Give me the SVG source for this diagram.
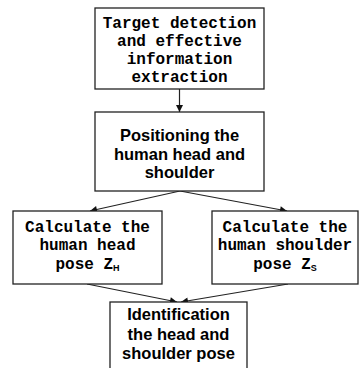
<svg xmlns="http://www.w3.org/2000/svg" width="361" height="368" viewBox="0 0 361 368">
<style>
.box{fill:#fff;stroke:#222;stroke-width:1.3}
.mono{font-family:"Liberation Mono","Courier New",monospace;font-weight:bold;font-size:16px;fill:#000;text-anchor:middle}
.sans{font-family:"Liberation Sans",Arial,sans-serif;font-weight:bold;font-size:16.5px;fill:#000;text-anchor:middle}
.sub{font-family:"Liberation Sans",Arial,sans-serif;font-weight:bold;font-size:9px}
.conn{stroke:#222;stroke-width:1.2;fill:none}
</style>
<defs>
<marker id="ah" viewBox="0 0 10 10" refX="10" refY="5" markerWidth="8" markerHeight="7" markerUnits="userSpaceOnUse" orient="auto">
<path d="M0,0 L10,5 L0,10 z" fill="#111"/>
</marker>
</defs>
<rect width="361" height="368" fill="#fff"/>
<g id="connectors">
<line class="conn" x1="179.5" y1="89" x2="179.5" y2="112" marker-end="url(#ah)"/>
<line class="conn" x1="180" y1="191" x2="90" y2="211" marker-end="url(#ah)"/>
<line class="conn" x1="180" y1="191" x2="287" y2="211" marker-end="url(#ah)"/>
<line class="conn" x1="87" y1="284" x2="177" y2="302" marker-end="url(#ah)"/>
<line class="conn" x1="288" y1="284" x2="181" y2="302" marker-end="url(#ah)"/>
</g>
<g id="node1">
<rect class="box" x="95" y="8" width="169" height="81"/>
<text class="mono" x="179.5" y="28">Target detection</text>
<text class="mono" x="179.5" y="46">and effective</text>
<text class="mono" x="179.5" y="64">information</text>
<text class="mono" x="179.5" y="82">extraction</text>
</g>
<g id="node2">
<rect class="box" x="95" y="112" width="169" height="79"/>
<text class="sans" x="179.5" y="141">Positioning the</text>
<text class="sans" x="179.5" y="160">human head and</text>
<text class="sans" x="179.5" y="178">shoulder</text>
</g>
<g id="node3">
<rect class="box" x="13" y="211" width="149" height="73"/>
<text class="mono" x="87.5" y="232">Calculate the</text>
<text class="mono" x="87.5" y="250">human head</text>
<text class="mono" x="87.5" y="269">pose Z<tspan class="sub" dy="2">H</tspan></text>
</g>
<g id="node4">
<rect class="box" x="212" y="211" width="146" height="73"/>
<text class="mono" x="285" y="232">Calculate the</text>
<text class="mono" x="285" y="250">human shoulder</text>
<text class="mono" x="285" y="269">pose Z<tspan class="sub" dy="2">S</tspan></text>
</g>
<g id="node5">
<rect class="box" x="110" y="302" width="137" height="72"/>
<text class="sans" x="178.5" y="320">Identification</text>
<text class="sans" x="178.5" y="340">the head and</text>
<text class="sans" x="178.5" y="359">shoulder pose</text>
</g>
</svg>
